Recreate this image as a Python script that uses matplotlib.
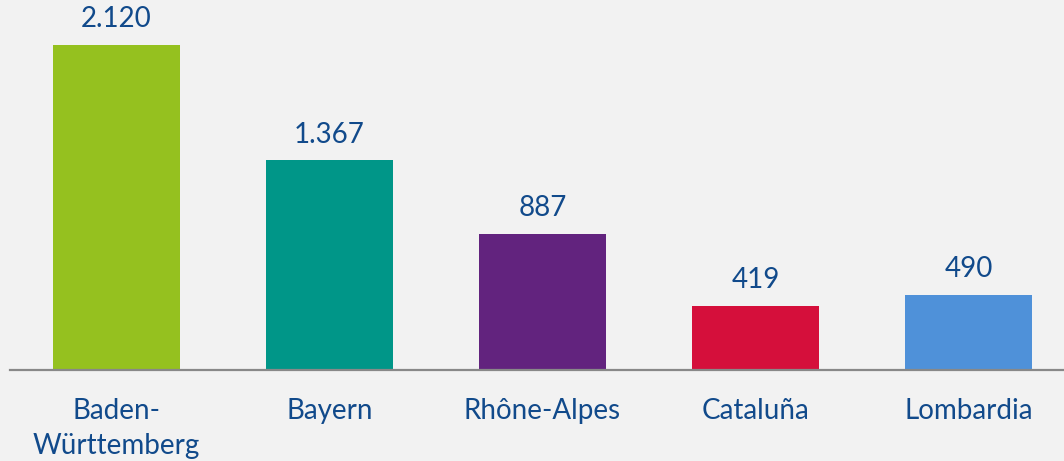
import matplotlib
matplotlib.use("Agg")
import matplotlib.pyplot as plt

regions = ["Baden-\nWürttemberg", "Bayern", "Rhône-Alpes", "Cataluña", "Lombardia"]
values = [2120, 1367, 887, 419, 490]
value_labels = ["2.120", "1.367", "887", "419", "490"]
colors = ["#95c11f", "#009688", "#62237e", "#d50f3b", "#4f91d9"]

bg = "#f2f2f2"
text_color = "#114a8b"

plt.rcParams["font.family"] = ["Lato", "DejaVu Sans"]

fig = plt.figure(figsize=(10.64, 4.61), dpi=100, facecolor=bg)
ax = fig.add_axes([10 / 1064, 91 / 461, 1054 / 1064, 370 / 461])
ax.set_facecolor(bg)

x = range(len(regions))
ax.bar(x, values, width=0.596, color=colors)

for xi, v, lab in zip(x, values, value_labels):
    ax.annotate(lab, (xi, v), xytext=(0, 9), textcoords="offset points",
                ha="center", va="bottom", fontsize=20, color=text_color)

ax.set_xlim(-0.5, 4.448)
ax.set_ylim(0, 2413)
ax.set_xticks(list(x))
ax.set_xticklabels(regions, fontsize=20, color=text_color, linespacing=1.45)
ax.tick_params(axis="x", length=0, pad=20)
ax.set_yticks([])
for side in ["top", "right", "left"]:
    ax.spines[side].set_visible(False)
ax.spines["bottom"].set_color("#888888")
ax.spines["bottom"].set_linewidth(1.6)

fig.savefig("out.png", dpi=100, facecolor=bg)
